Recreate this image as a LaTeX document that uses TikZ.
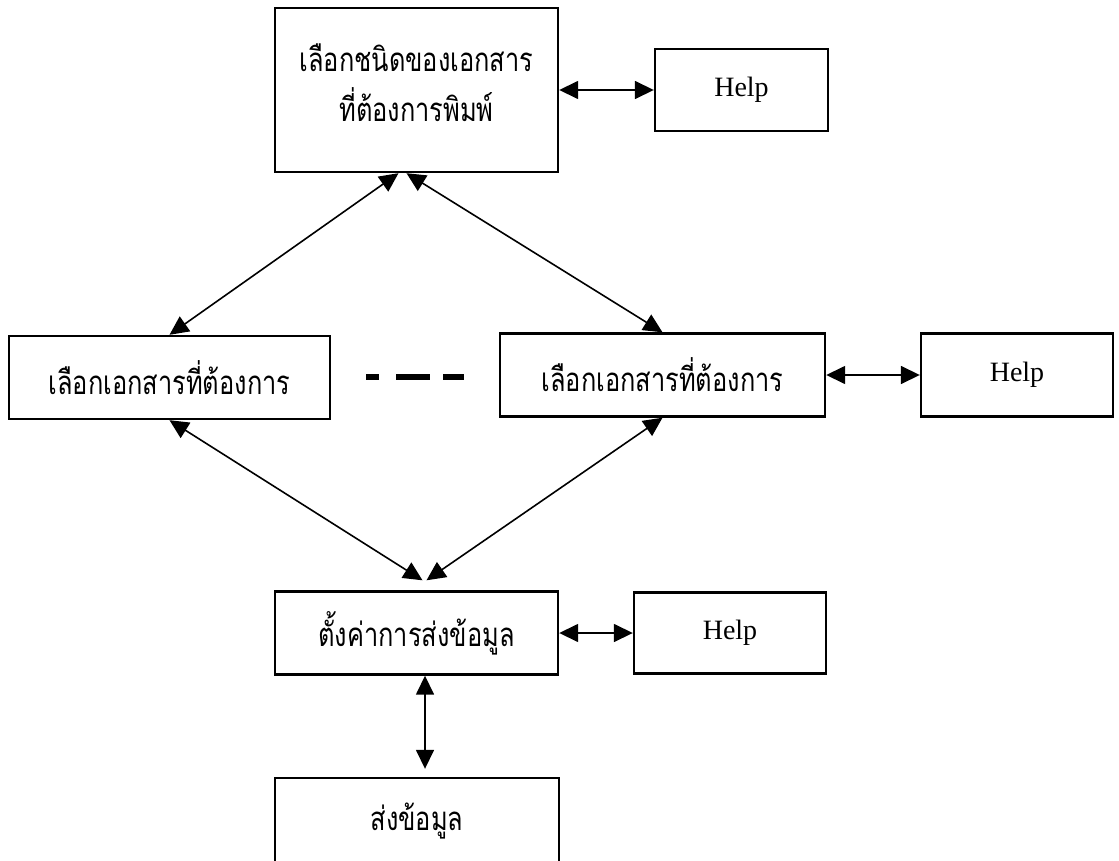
\documentclass[tikz,border=0pt]{standalone}
\usepackage{fontspec}
\setmainfont{Liberation Serif}
\newfontfamily\thaifont[Script=Thai,FakeStretch=0.77]{Loma}
\usetikzlibrary{arrows.meta}

\begin{document}
\begin{tikzpicture}[x=1pt,y=-1pt,<->,>={Triangle[length=19pt,width=18pt]},
                    line width=1.6pt,
                    menu/.style={draw,line width=2.4pt,inner sep=0pt,align=center,
                                 font=\thaifont\fontsize{33}{50}\selectfont},
                    helpbox/.style={draw,line width=2.4pt,inner sep=0pt,
                                 font=\fontsize{28}{30}\selectfont}]

 \useasboundingbox (0,0) rectangle (1119,861);

 \node[menu,minimum width=283pt,minimum height=164pt] (type) at (416.5,90)
      {เลือกชนิดของเอกสาร\\ที่ต้องการพิมพ์\\[-36pt]\mbox{}};
 \node[helpbox,minimum width=173pt,minimum height=82pt] (help1) at (741.5,90) {Help};
 \node[menu,minimum width=321pt,minimum height=83pt] (docL) at (169.5,377.5) {เลือกเอกสารที่ต้องการ};
 \node[menu,minimum width=325pt,minimum height=83pt] (docR) at (662.5,375) {เลือกเอกสารที่ต้องการ};
 \node[helpbox,minimum width=192pt,minimum height=83pt] (help2) at (1017,375) {Help};
 \node[menu,minimum width=283pt,minimum height=83pt] (setup) at (416.5,633) {ตั้งค่าการส่งข้อมูล};
 \node[helpbox,minimum width=192pt,minimum height=81pt] (help3) at (730,633) {Help};
 \node[menu,minimum width=284pt,minimum height=86pt] (send) at (417,821) {ส่งข้อมูล};

 \coordinate (dashA) at (366,377);
 \coordinate (dashB) at (465,377);

 \path (type.east) edge (help1.west)
       ([xshift=-18pt]type.south) edge (docL.north)
       ([xshift=-10pt]type.south) edge (docR.north)
       (docR.east) edge (help2.west)
       (docL.south) edge ([xshift=6pt,yshift=10pt]setup.north)
       (docR.south) edge ([xshift=10pt,yshift=10pt]setup.north)
       (setup.east) edge (help3.west)
       ([xshift=8.5pt]setup.south) edge ([xshift=8pt,yshift=8pt]send.north);

 \draw[-,line width=6pt,dash pattern=on 13pt off 17pt on 34pt off 13pt on 21pt off 5pt]
      (dashA) -- (dashB);

\end{tikzpicture}
\end{document}
